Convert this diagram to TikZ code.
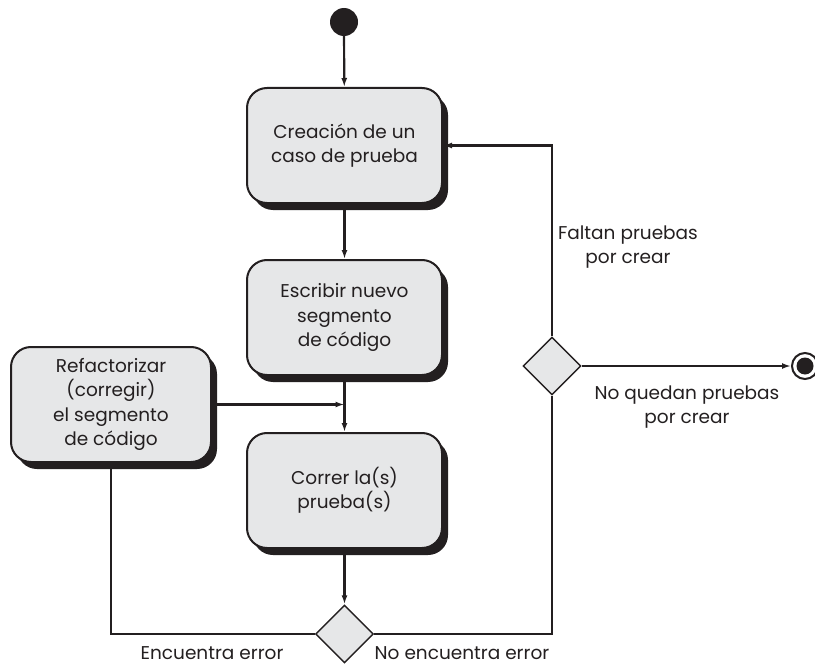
\documentclass[tikz,border=0pt]{standalone}
\usepackage{fontspec}
\setmainfont{Poppins}
\usetikzlibrary{shapes.geometric,arrows.meta,shadows,calc}
\definecolor{ink}{HTML}{231F20}
\definecolor{boxfill}{HTML}{E6E7E8}
\begin{document}
\begin{tikzpicture}[x=1pt,y=-1pt,
  every node/.style={font=\fontsize{18.5}{24.5}\selectfont, text=ink},
  actbox/.style={draw=ink, line width=2pt, fill=boxfill, rounded corners=20pt,
    minimum width=195pt, minimum height=115pt, align=center, inner sep=2pt,
    drop shadow={shadow xshift=6pt, shadow yshift=-7pt, fill=ink, opacity=1}},
  decision/.style={diamond, draw=ink, line width=1.4pt, fill=boxfill, aspect=1,
    minimum width=58pt, minimum height=58pt, inner sep=0pt},
  conn/.style={draw=ink, line width=2.2pt},
  arr/.style={conn, -{Latex[length=9pt,width=6pt]}},
  lbl/.style={align=center}
]
\useasboundingbox (0,0) rectangle (815,669);

\node[circle, fill=ink, minimum size=28pt, inner sep=0pt] (start) at (344,22) {};
\node[actbox] (b1) at (344.5,145.5) {Creación de un\\caso de prueba};
\node[actbox] (b2) at (344.5,317.5) {Escribir nuevo\\segmento\\de código};
\node[actbox] (b3) at (344.5,490.5) {Correr la(s)\\prueba(s)};
\node[actbox, minimum width=200pt] (ref) at (111,404.5) {Refactorizar\\(corregir)\\el segmento\\de código};
\node[decision] (d1) at (344.5,634) {};
\node[decision] (d2) at (552,366) {};
\node[circle, draw=ink, line width=2pt, fill=white, minimum size=26pt, inner sep=0pt] (endo) at (805,366) {};
\node[circle, fill=ink, minimum size=17pt, inner sep=0pt] (endi) at (endo) {};

\draw[arr] (start) -- (b1);
\draw[arr] (b1) -- (b2);
\draw[arr] (b2) -- (b3);
\draw[arr] (ref.east) -- (ref.east -| b2.south);
\draw[arr] (b3) -- (d1);
\draw[conn] (d1.west) -- (d1.west -| ref.south) -- (ref.south);
\draw[conn] (d1.east) -- (d1.east -| d2.south) -- (d2.south);
\draw[arr] (d2.north) -- (d2.north |- b1.east) -- (b1.east);
\draw[arr] (d2.east) -- (endo.west);

\node[lbl] (l1) at (628,247) {Faltan pruebas\\por crear};
\node[lbl] (l2) at (687,407) {No quedan pruebas\\por crear};
\node[lbl] (l3) at (212,653) {Encuentra error};
\node[lbl] (l4) at (462,653) {No encuentra error};
\end{tikzpicture}
\end{document}
